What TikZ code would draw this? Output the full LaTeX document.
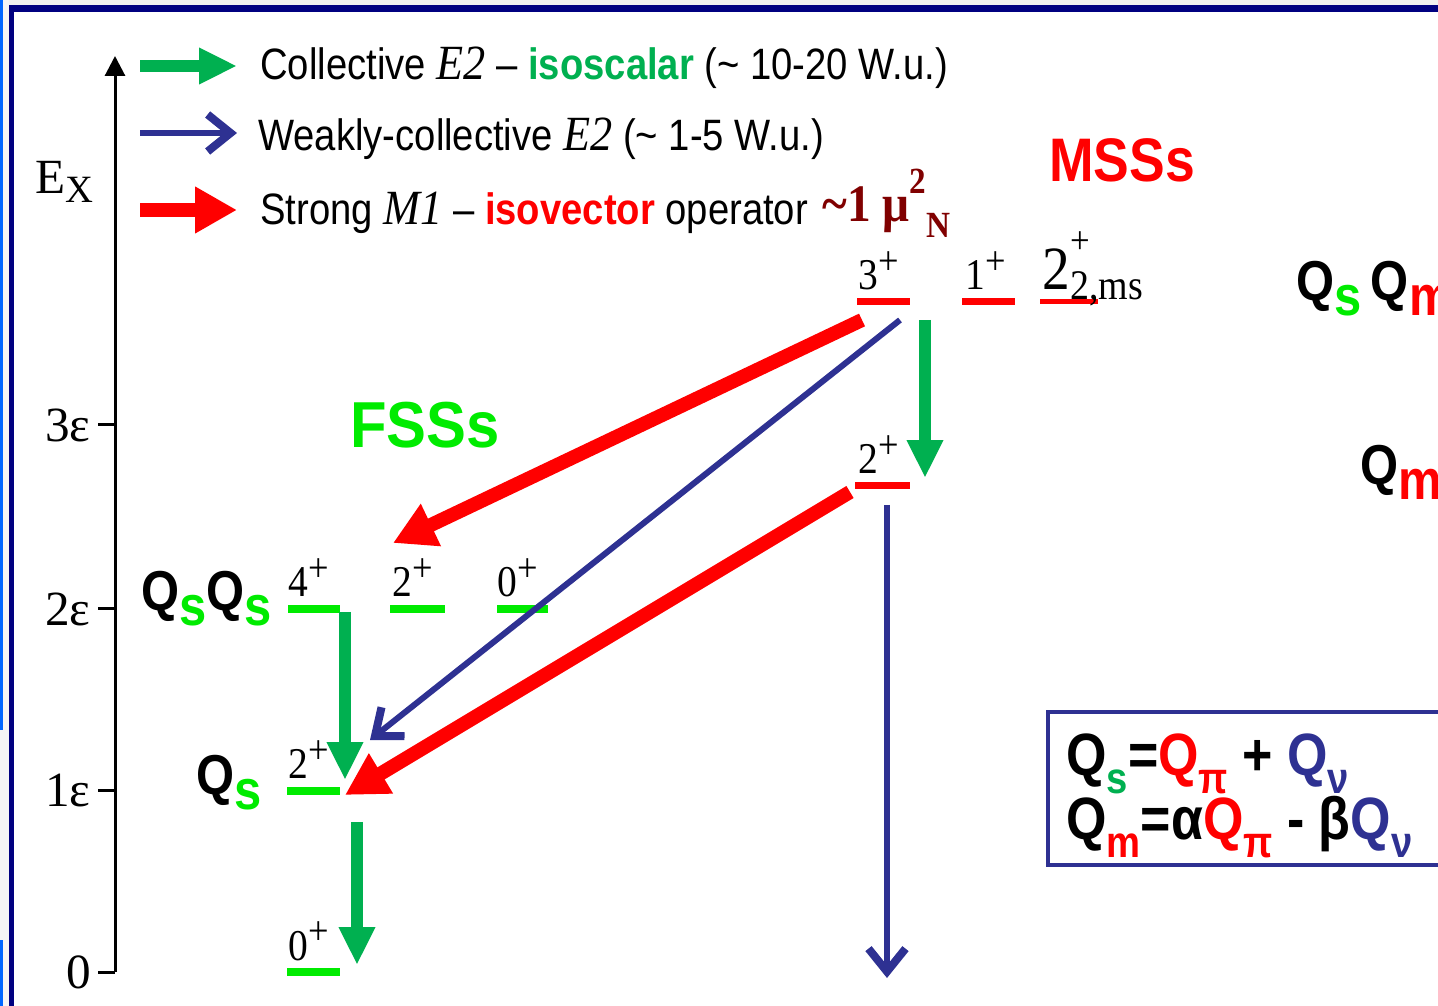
\documentclass[tikz,border=0pt]{standalone}
\usepackage{fontspec}
\usepackage{graphicx}
\usetikzlibrary{arrows.meta}
\setmainfont{Liberation Serif}
\newfontfamily\arialn[FakeStretch=0.87]{Liberation Sans}
\newfontfamily\arialw[FakeStretch=0.92]{Liberation Sans}
\newfontfamily\timesn[FakeStretch=0.9]{Liberation Serif}
\definecolor{isogreen}{RGB}{0,176,80}
\definecolor{levgreen}{RGB}{0,235,0}
\definecolor{navy}{RGB}{46,49,146}
\definecolor{framenavy}{RGB}{0,0,128}
\definecolor{mured}{RGB}{128,0,0}
% spin-parity label, j^+
\newcommand{\spin}[1]{#1\raisebox{0.36em}{\fontsize{23}{23}\selectfont +}}
% boson label, Q with coloured index
\newcommand{\Qix}[2]{Q\raisebox{-0.26em}{\color{#1}#2}}
\newcommand{\Qeq}[2]{Q\raisebox{-0.3em}{\fontsize{25}{25}\selectfont\color{#1}#2}}

\begin{document}
\begin{tikzpicture}[x=0.02cm,y=-0.02cm,
    legend/.style={anchor=base west, inner sep=0pt, font=\fontsize{25}{30}\selectfont\arialn},
    lvl/.style={anchor=base west, inner sep=0pt, font=\fontsize{25}{25}\selectfont\timesn},
    qlab/.style={inner sep=0pt, font=\fontsize{32}{32}\selectfont\arialn\bfseries},
    lvg/.style={levgreen, line width=1.6mm},
    lvr/.style={red, line width=1.4mm},
    e2arrow/.style={isogreen, line width=2.4mm, -{Triangle[length=7.6mm,width=6.8mm]}},
    m1arrow/.style={red, line width=2.8mm, -{Triangle[length=8.4mm,width=8.8mm]}},
    weakarrow/.style={navy, line width=1.2mm, -{Straight Barb[length=4.6mm,width=7.4mm,line width=1.6mm]}},
  ]
  \clip (0,0) rectangle (1438,1006);

  % Slide frame
  \fill[black!6] (0,0) rectangle (1438,6);
  \fill[black!4] (0,0) rectangle (9,1006);
  \fill[blue!60!cyan] (0,0) rectangle (3,730);
  \fill[blue!60!cyan] (0,940) rectangle (3,1006);
  \fill[framenavy] (9,5) rectangle (1438,12);
  \fill[framenavy] (9,5) rectangle (14,1006);

  % Energy axis
  \coordinate (ax0) at (115,972);
  \coordinate (axtop) at (115,56);
  \draw[line width=0.6mm, -{Triangle[length=4mm,width=4mm]}] (ax0) -- (axtop);
  \node[inner sep=0pt] (ex) at (64,182) {\fontsize{28}{28}\selectfont E\raisebox{-0.18em}{\fontsize{22}{22}\selectfont X}};
  \foreach \y/\lab [count=\i] in {972/0, 791/1ε, 609/2ε, 425/3ε} {
    \coordinate (tk\i) at (98,\y);
    \draw[line width=0.6mm] (tk\i) -- (115,\y);
    \node[anchor=east, inner sep=0pt, font=\fontsize{28}{28}\selectfont] (tl\i) at (91,\y) {\lab};
  }

  % Legend
  \coordinate (lg1a) at (140,66);  \coordinate (lg1b) at (237,66);
  \coordinate (lg2a) at (140,133); \coordinate (lg2b) at (237,133);
  \coordinate (lg3a) at (140,210); \coordinate (lg3b) at (237,210);
  \draw[e2arrow] (lg1a) -- (lg1b);
  \draw[weakarrow] (lg2a) -- (lg2b);
  \draw[m1arrow] (lg3a) -- (lg3b);
  \node[legend] (lgt1) at (260,80) {Collective {\timesn\itshape\fontsize{28}{30}\selectfont E2} – {\bfseries\color{isogreen}isoscalar} (\textasciitilde{} 10-20 W.u.)};
  \node[legend] (lgt2) at (258,151) {Weakly-collective {\timesn\itshape\fontsize{28}{30}\selectfont E2} (\textasciitilde{} 1-5 W.u.)};
  \node[legend] (lgt3) at (260,225) {Strong {\timesn\itshape\fontsize{28}{30}\selectfont M1} – {\bfseries\color{red}isovector} operator};
  \node[anchor=base west, inner sep=0pt, mured, font=\fontsize{30}{30}\selectfont\timesn\bfseries] (mu) at (822,222)
    {\textasciitilde1 μ\raisebox{0.55em}{\fontsize{21}{21}\selectfont 2}\raisebox{-0.3em}{\fontsize{21}{21}\selectfont N}};

  % Group titles
  \node[red, font=\fontsize{35}{35}\selectfont\arialn\bfseries] (mss) at (1122,160) {MSSs};
  \node[levgreen, font=\fontsize{37}{37}\selectfont\arialw\bfseries] (fss) at (425,425) {FSSs};

  % Mixed-symmetry levels
  \draw[lvr] (857,302) -- (910,302);
  \draw[lvr] (962,302) -- (1015,302);
  \draw[red, line width=1mm] (1040,302) -- (1098,302);
  \draw[lvr] (855,486) -- (910,486);
  \node[lvl] (m3) at (858,290) {\spin{3}};
  \node[lvl] (m1) at (965,290) {\spin{1}};
  \node[lvl, font=\fontsize{35}{35}\selectfont\timesn] (m22) at (1042,290)
    {2\rlap{\raisebox{0.6em}{\fontsize{22}{22}\selectfont +}}\raisebox{-0.15em}{\fontsize{24}{24}\selectfont 2,ms}};
  \node[lvl] (m2) at (858,474) {\spin{2}};

  % Full-symmetry levels
  \draw[lvg] (288,609) -- (340,609);
  \draw[lvg] (390,609) -- (445,609);
  \draw[lvg] (497,609) -- (548,609);
  \draw[lvg] (287,791) -- (340,791);
  \draw[lvg] (287,972) -- (340,972);
  \node[lvl] (f4) at (288,597) {\spin{4}};
  \node[lvl] (f2b) at (392,597) {\spin{2}};
  \node[lvl] (f0b) at (497,597) {\spin{0}};
  \node[lvl] (f2) at (288,779) {\spin{2}};
  \node[lvl] (f0) at (288,960) {\spin{0}};

  % Boson labels
  \node[qlab, anchor=base east] (qq) at (272,611) {\Qix{levgreen}{s}\Qix{levgreen}{s}};
  \node[qlab, anchor=base east] (q1) at (262,795) {\Qix{levgreen}{s}};
  \node[qlab, anchor=base west] (qqm) at (1296,301) {\Qix{levgreen}{s}\,\Qix{red}{m}};
  \node[qlab, anchor=base west] (qm) at (1360,485) {\Qix{red}{m}};

  % Transitions
  \coordinate (s3a) at (862,320); \coordinate (e2b) at (393,543);
  \coordinate (s3b) at (900,320); \coordinate (e2a) at (370,740);
  \coordinate (s3c) at (925,320); \coordinate (e2m) at (925,478);
  \coordinate (s2a) at (850,492); \coordinate (e21) at (345,795);
  \coordinate (s2b) at (887,505); \coordinate (e0m) at (887,978);
  \coordinate (s4) at (345,612);  \coordinate (e41) at (345,780);
  \coordinate (s1) at (357,822);  \coordinate (e10) at (357,965);
  \draw[m1arrow] (s3a) -- (e2b);
  \draw[weakarrow] (s3b) -- (e2a);
  \draw[e2arrow] (s3c) -- (e2m);
  \draw[m1arrow] (s2a) -- (e21);
  \draw[weakarrow] (s2b) -- (e0m);
  \draw[e2arrow] (s4) -- (e41);
  \draw[e2arrow] (s1) -- (e10);

  % Operator box
  \draw[navy, line width=0.7mm] (1048,712) rectangle (1470,865);
  \node[anchor=base west, inner sep=0pt, font=\fontsize{34}{34}\selectfont\arialn\bfseries] (eq1) at (1066,776)
    {\Qeq{isogreen}{s}=\textcolor{red}{\Qeq{red}{π}} + \textcolor{navy}{\Qeq{navy}{ν}}};
  \node[anchor=base west, inner sep=0pt, font=\fontsize{34}{34}\selectfont\arialn\bfseries] (eq2) at (1066,840)
    {\Qeq{red}{m}=α\textcolor{red}{\Qeq{red}{π}} - β\textcolor{navy}{\Qeq{navy}{ν}}};
\end{tikzpicture}
\end{document}
